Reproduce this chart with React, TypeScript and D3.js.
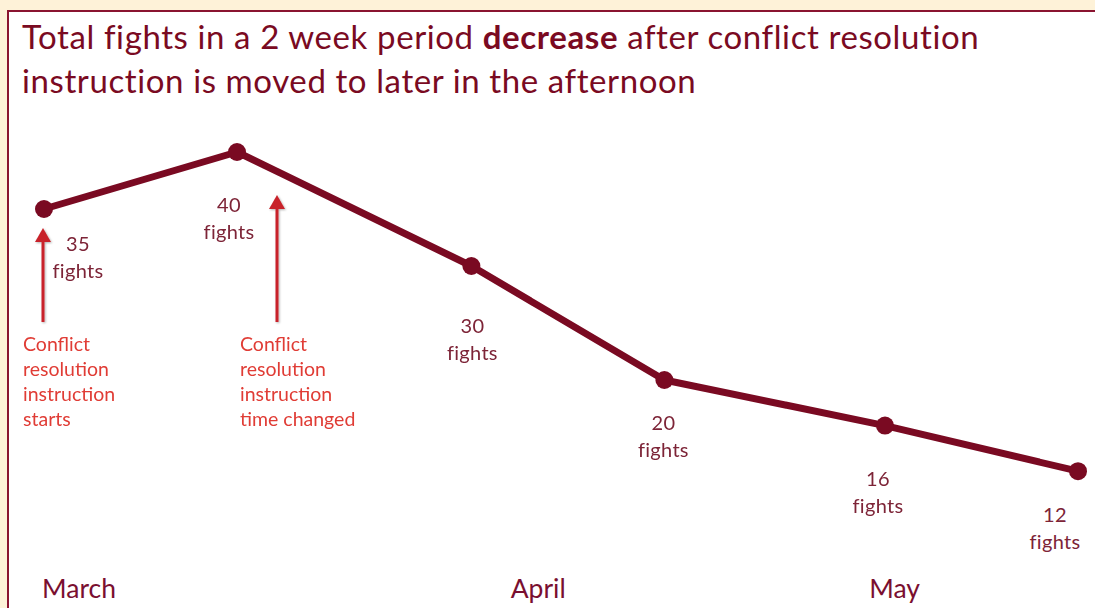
import React, { useEffect, useRef } from "react";
import * as d3 from "d3";

// two-week periods (reporting date) and total fights
const periods = ["2014-03-03", "2014-03-17", "2014-04-03", "2014-04-17", "2014-05-03", "2014-05-17"];
const fights = [35, 40, 30, 20, 16, 12];
const months = ["March", "April", "May"];
const monthDates = ["2014-03-03", "2014-04-06", "2014-05-02"];
const notes = [
  ["Conflict", "resolution", "instruction", "starts"],
  ["Conflict", "resolution", "instruction", "time changed"],
];
const noteDates = ["2014-03-03", "2014-03-20"];

// label placement relative to each point (layout only)
const labelShift = [
  [34, 35],
  [-8, 53],
  [1, 60],
  [-1, 43],
  [-7, 53],
  [-23, 44],
];

const W = 1095;
const H = 608;
const FONT = "Lato, 'Open Sans', sans-serif";
const MAROON = "#7a0a22";

export default function App() {
  const ref = useRef<SVGSVGElement>(null);

  useEffect(() => {
    document.body.style.margin = "0";
    const parse = d3.timeParse("%Y-%m-%d");
    const data = periods.map((p, i) => ({ date: parse(p) as Date, value: fights[i] }));

    const x = d3
      .scaleTime()
      .domain([data[0].date, data[data.length - 1].date])
      .range([44, 1078]);
    const y = d3.scaleLinear().domain([0, 40]).range([H, 152]);

    const svg = d3.select(ref.current);
    svg.selectAll("*").remove();

    // page + frame
    svg.append("rect").attr("width", W).attr("height", H).attr("fill", "#fef2d8");
    svg
      .append("rect")
      .attr("x", 8)
      .attr("y", 11)
      .attr("width", W + 20)
      .attr("height", H + 20)
      .attr("fill", "#fff")
      .attr("stroke", "#8a1430")
      .attr("stroke-width", 2);

    // title
    const title = svg
      .append("text")
      .attr("font-family", FONT)
      .attr("font-size", 33)
      .attr("letter-spacing", 0.6)
      .attr("fill", MAROON);
    const l1 = title.append("tspan").attr("x", 22).attr("y", 49);
    l1.append("tspan").text("Total fights in a 2 week period ");
    l1.append("tspan").attr("font-weight", "bold").text("decrease");
    l1.append("tspan").text(" after conflict resolution");
    title
      .append("tspan")
      .attr("x", 22)
      .attr("y", 93)
      .text("instruction is moved to later in the afternoon");

    // arrow shadow
    svg
      .append("defs")
      .append("filter")
      .attr("id", "sh")
      .append("feDropShadow")
      .attr("dx", 1)
      .attr("dy", 1)
      .attr("stdDeviation", 1)
      .attr("flood-color", "#000")
      .attr("flood-opacity", 0.3);

    const arrowTips = [228, 195];
    const arrows = svg
      .append("g")
      .attr("fill", "#c8232b")
      .attr("stroke", "#c8232b")
      .attr("filter", "url(#sh)")
      .selectAll("g")
      .data(noteDates)
      .join("g")
      .attr("transform", (d) => `translate(${Math.round(x(parse(d) as Date)) - 1},0)`);
    arrows
      .append("line")
      .attr("y1", 322)
      .attr("y2", (d, i) => arrowTips[i] + 10)
      .attr("stroke-width", 3);
    arrows
      .append("path")
      .attr("stroke", "none")
      .attr("d", (d, i) => `M0,${arrowTips[i]} L8,${arrowTips[i] + 14} L-8,${arrowTips[i] + 14} Z`);

    // notes
    svg
      .append("g")
      .attr("font-family", FONT)
      .attr("font-size", 19.5)
      .attr("fill", "#e03c35")
      .selectAll("text")
      .data(notes)
      .join("text")
      .attr("x", (d, i) => (i === 0 ? 23 : 240))
      .attr("y", 351)
      .selectAll("tspan")
      .data((d) => d)
      .join("tspan")
      .attr("x", function () {
        return (this.parentNode as SVGTextElement).getAttribute("x");
      })
      .attr("dy", (d, i) => (i === 0 ? 0 : 25))
      .text((d) => d);

    // line
    const line = d3
      .line<{ date: Date; value: number }>()
      .x((d) => x(d.date))
      .y((d) => y(d.value));
    svg
      .append("path")
      .datum(data)
      .attr("fill", "none")
      .attr("stroke", MAROON)
      .attr("stroke-width", 7)
      .attr("stroke-linejoin", "round")
      .attr("d", line);
    svg
      .append("g")
      .attr("fill", MAROON)
      .selectAll("circle")
      .data(data)
      .join("circle")
      .attr("cx", (d) => x(d.date))
      .attr("cy", (d) => y(d.value))
      .attr("r", 9);

    // value labels
    const labels = svg
      .append("g")
      .attr("font-family", FONT)
      .attr("font-size", 20)
      .attr("letter-spacing", 0.3)
      .attr("fill", "#7d2437")
      .attr("text-anchor", "middle")
      .selectAll("text")
      .data(data)
      .join("text")
      .attr("transform", (d, i) => `translate(${x(d.date) + labelShift[i][0]},${y(d.value) + labelShift[i][1]})`);
    labels.append("tspan").attr("x", 0).attr("y", 7).text((d) => d.value);
    labels.append("tspan").attr("x", 0).attr("y", 34).text("fights");

    // month labels
    svg
      .append("g")
      .attr("font-family", FONT)
      .attr("font-size", 26.5)
      .attr("fill", "#7a0f30")
      .selectAll("text")
      .data(months)
      .join("text")
      .attr("x", (d, i) => x(parse(monthDates[i]) as Date) - 2)
      .attr("y", 598)
      .text((d) => d);
  }, []);

  return <svg ref={ref} width={W} height={H} style={{ display: "block" }} />;
}
